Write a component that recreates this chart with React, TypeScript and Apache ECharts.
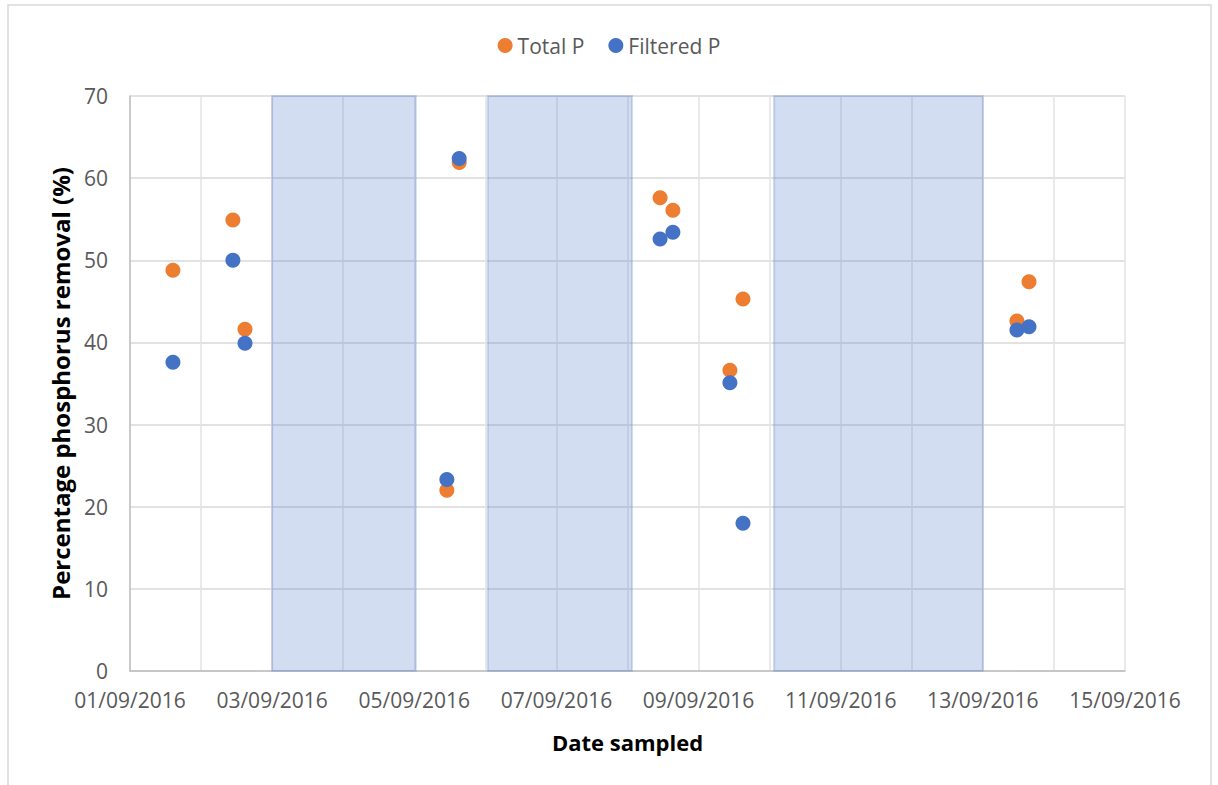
import React, { useEffect, useRef } from "react";
import * as echarts from "echarts";

const sampleTimes = [
  "2016-09-01T14:30",
  "2016-09-02T10:45",
  "2016-09-02T14:50",
  "2016-09-05T11:00",
  "2016-09-05T15:10",
  "2016-09-08T11:00",
  "2016-09-08T15:20",
  "2016-09-09T10:35",
  "2016-09-09T15:00",
  "2016-09-13T11:30",
  "2016-09-13T15:35",
];
const totalP = [48.8, 54.9, 41.6, 22.0, 61.9, 57.6, 56.1, 36.6, 45.3, 42.6, 47.4];
const filteredP = [37.6, 50.0, 39.9, 23.3, 62.4, 52.6, 53.4, 35.1, 18.0, 41.5, 41.9];
const shadedPeriods = [
  ["2016-09-03T00:00", "2016-09-05T00:30"],
  ["2016-09-06T00:50", "2016-09-08T01:30"],
  ["2016-09-10T01:30", "2016-09-13T00:00"],
];
const axisStart = "2016-09-01T00:00";
const axisEnd = "2016-09-15T00:00";
const yTicks = [0, 10, 20, 30, 40, 50, 60, 70];

const DAY = 86400000;
const toMs = (s: string) => {
  const [d, t] = s.split("T");
  const [y, m, dd] = d.split("-").map(Number);
  const [hh, mm] = t.split(":").map(Number);
  return Date.UTC(y, m - 1, dd, hh, mm);
};
const pad = (n: number) => (n < 10 ? "0" + n : "" + n);

export default function App() {
  const ref = useRef<HTMLDivElement>(null);
  useEffect(() => {
    if (!ref.current) return;
    const chart = echarts.init(ref.current, null, { renderer: "svg" });
    const font = "'Open Sans', 'Noto Sans', sans-serif";
    const minX = toMs(axisStart);
    const maxX = toMs(axisEnd);
    chart.setOption({
      animation: false,
      backgroundColor: "#ffffff",
      textStyle: { fontFamily: font },
      graphic: [
        {
          type: "rect",
          shape: { x: 8, y: 5, width: 1203, height: 800 },
          style: { fill: "none", stroke: "#D9D9D9", lineWidth: 1.5 },
          silent: true,
          z: -10,
        },
      ],
      legend: {
        top: 30,
        left: "center",
        icon: "circle",
        itemWidth: 15,
        itemHeight: 15,
        itemGap: 24,
        textStyle: { fontSize: 21, color: "#595959", fontFamily: font },
        data: ["Total P", "Filtered P"],
      },
      grid: { left: 130, right: 93, top: 96, bottom: 114 },
      xAxis: {
        type: "value",
        min: minX,
        max: maxX,
        interval: DAY,
        name: "Date sampled",
        nameLocation: "middle",
        nameGap: 60,
        nameTextStyle: { fontSize: 22, fontWeight: "bold", color: "#000000", fontFamily: font },
        axisLine: { show: true, lineStyle: { color: "#BFBFBF", width: 1.5 } },
        axisTick: { show: false },
        splitLine: { show: true, lineStyle: { color: "#E3E3E3", width: 1.5 } },
        axisLabel: {
          fontSize: 21,
          color: "#595959",
          margin: 18,
          fontFamily: font,
          showMinLabel: true,
          showMaxLabel: true,
          hideOverlap: false,
          formatter: (v: number) => {
            const d = new Date(v);
            const day = d.getUTCDate();
            if ((Math.round((v - minX) / DAY)) % 2 !== 0) return "";
            return pad(day) + "/" + pad(d.getUTCMonth() + 1) + "/" + d.getUTCFullYear();
          },
        },
      },
      yAxis: {
        type: "value",
        min: yTicks[0],
        max: yTicks[yTicks.length - 1],
        interval: 10,
        name: "Percentage phosphorus removal (%)",
        nameLocation: "middle",
        nameGap: 58,
        nameRotate: 90,
        nameTextStyle: { fontSize: 24, fontWeight: "bold", color: "#000000", fontFamily: font },
        axisLine: { show: true, lineStyle: { color: "#BFBFBF", width: 1.5 } },
        axisTick: { show: false },
        splitLine: { show: true, lineStyle: { color: "#D9D9D9", width: 1.5 } },
        axisLabel: { fontSize: 21, color: "#595959", margin: 22, fontFamily: font },
      },
      series: [
        {
          name: "Total P",
          type: "scatter",
          symbol: "circle",
          symbolSize: 15,
          itemStyle: { color: "#ED7D31", opacity: 1 },
          data: sampleTimes.map((t, i) => [toMs(t), totalP[i]]),
          z: 3,
          markArea: {
            silent: true,
            itemStyle: {
              color: "rgba(68,114,196,0.24)",
              borderColor: "rgba(120,150,205,0.35)",
              borderWidth: 2,
            },
            data: shadedPeriods.map((p) => [{ xAxis: toMs(p[0]) }, { xAxis: toMs(p[1]) }]),
          },
        },
        {
          name: "Filtered P",
          type: "scatter",
          symbol: "circle",
          symbolSize: 15,
          itemStyle: { color: "#4472C4", opacity: 1 },
          data: sampleTimes.map((t, i) => [toMs(t), filteredP[i]]),
          z: 4,
        },
      ],
    });
    return () => chart.dispose();
  }, []);
  return (
    <div
      ref={ref}
      style={{ position: "absolute", left: 0, top: 0, width: 1218, height: 785 }}
    />
  );
}
